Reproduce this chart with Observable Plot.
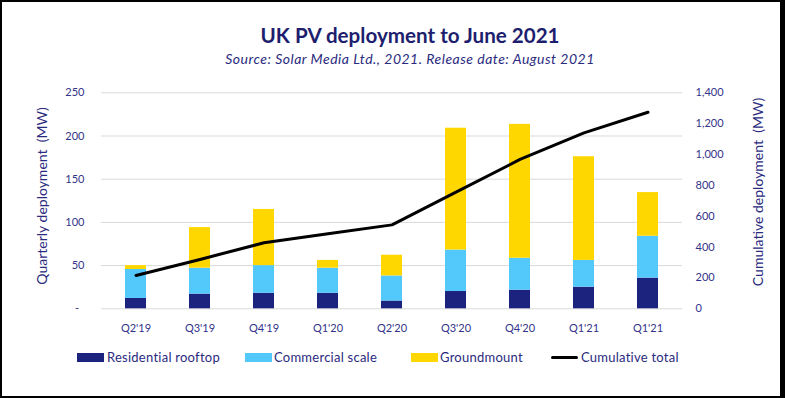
<!DOCTYPE html>
<html><head><meta charset="utf-8">
<script src="https://cdn.jsdelivr.net/npm/d3@7"></script>
<script src="https://cdn.jsdelivr.net/npm/@observablehq/plot@0.6"></script>
<style>
html,body{margin:0;padding:0;background:#fff;}
#wrap{position:relative;width:785px;height:398px;overflow:hidden;font-family:Lato,sans-serif;color:#2a2a7e;}
#frame{position:absolute;left:0;top:0;width:785px;height:398px;box-sizing:border-box;border-style:solid;border-color:#000;border-width:2px 5px 2px 2px;pointer-events:none;}
#title{position:absolute;left:110px;width:600px;top:23px;text-align:center;font-weight:700;font-size:20.6px;line-height:24px;color:#1e1e6e;}
#subtitle{position:absolute;left:110px;width:600px;top:51px;text-align:center;font-style:italic;font-size:14px;letter-spacing:0.5px;line-height:16px;}
#chart{position:absolute;left:0;top:72px;}
.ytitle{position:absolute;white-space:pre;font-size:14px;line-height:16px;transform:translate(-50%,-50%) rotate(-90deg);}
.sw{position:absolute;}
.lt{position:absolute;font-size:13px;letter-spacing:0.25px;line-height:14px;white-space:nowrap;}
</style></head>
<body>
<div id="wrap">
  <div id="title">UK PV deployment to June 2021</div>
  <div id="subtitle">Source: Solar Media Ltd., 2021. Release date: August 2021</div>
  <div id="chart"></div>
  <div class="ytitle" style="left:42px;top:196px;">Quarterly deployment  (MW)</div>
  <div class="ytitle" style="left:758px;top:192px;">Cumulative deployment  (MW)</div>
  <div id="legend"></div>
  <div id="frame"></div>
</div>
<script>
const quarters = ["Q2'19","Q3'19","Q4'19","Q1'20","Q2'20","Q3'20","Q4'20","Q1'21","Q1'21"];
const residential = [12, 17, 18, 18, 9, 20, 21.5, 25, 35.5];
const commercial = [33.5, 30, 32, 29, 29, 48, 37, 31, 48.5];
const groundmount = [4.5, 47, 65, 9, 24, 141, 155, 120, 50.5];
const cumulative = [216, 320, 428, 486, 544, 756, 968, 1140, 1274];
const seriesNames = ["Residential rooftop", "Commercial scale", "Groundmount"];
const lineName = "Cumulative total";
const seriesColors = ["#1b237e", "#52c8fb", "#ffd700"];
const leftTicks = [0, 50, 100, 150, 200, 250];
const rightTicks = [0, 200, 400, 600, 800, 1000, 1200, 1400];

const leftMax = 250, rightMax = 1400;
const k = leftMax / rightMax;
const rows = [];
quarters.forEach((q, i) => {
  [residential, commercial, groundmount].forEach((arr, j) =>
    rows.push({i, series: seriesNames[j], value: arr[i]}));
});
const lineData = cumulative.map((v, i) => ({i, v: v * k}));

const chart = Plot.plot({
  width: 785, height: 270,
  marginTop: 20.3, marginBottom: 33.7, marginLeft: 101, marginRight: 103,
  style: {fontFamily: "Lato, sans-serif", fontSize: "11px", color: "#33338a", background: "transparent"},
  x: {type: "band", domain: d3.range(quarters.length), paddingInner: 0.674, paddingOuter: 0.337, label: null},
  y: {domain: [0, leftMax], label: null},
  color: {domain: seriesNames, range: seriesColors},
  marks: [
    Plot.gridY(leftTicks, {stroke: "#d9d9d9", strokeOpacity: 1, strokeWidth: 1}),
    Plot.barY(rows, {x: "i", y: "value", fill: "series"}),
    Plot.line(lineData, {x: "i", y: "v", stroke: "#000", strokeWidth: 3, strokeLinejoin: "round", strokeLinecap: "round"}),
    Plot.axisY(leftTicks, {anchor: "left", tickSize: 0, tickPadding: 17, tickFormat: d => d === 0 ? "-\u2002" : d, label: null}),
    Plot.axisY(rightTicks.map(v => v * k), {anchor: "right", tickSize: 0, tickPadding: 13, tickFormat: d => d3.format(",")(Math.round(d / k)), label: null}),
    Plot.axisX({tickSize: 0, tickPadding: 15, tickFormat: i => quarters[i], label: null})
  ]
});
document.getElementById("chart").appendChild(chart);

// legend
const legend = document.getElementById("legend");
const items = [
  {name: seriesNames[0], color: seriesColors[0], type: "box", sx: 77, tx: 107},
  {name: seriesNames[1], color: seriesColors[1], type: "box", sx: 245, tx: 274},
  {name: seriesNames[2], color: seriesColors[2], type: "box", sx: 411, tx: 440},
  {name: lineName, color: "#000", type: "line", sx: 551, tx: 581}
];
items.forEach(it => {
  const s = document.createElement("div");
  s.className = "sw";
  s.style.left = it.sx + "px";
  s.style.width = "27px";
  s.style.background = it.color;
  if (it.type === "box") { s.style.top = "353px"; s.style.height = "9px"; }
  else { s.style.top = "356px"; s.style.height = "3px"; s.style.borderRadius = "1.5px"; }
  legend.appendChild(s);
  const t = document.createElement("div");
  t.className = "lt";
  t.style.left = it.tx + "px";
  t.style.top = "350px";
  t.textContent = it.name;
  legend.appendChild(t);
});
</script>
</body></html>
